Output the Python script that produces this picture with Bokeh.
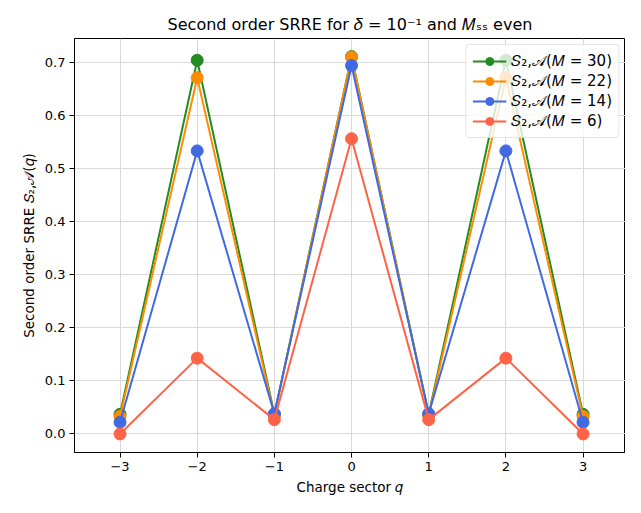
from bokeh.plotting import figure
from bokeh.embed import file_html
from bokeh.resources import INLINE
from bokeh.models import FixedTicker, Range1d, PrintfTickFormatter

q = [-3, -2, -1, 0, 1, 2, 3]
s_m30 = [0.037, 0.705, 0.037, 0.712, 0.037, 0.705, 0.037]
s_m22 = [0.033, 0.672, 0.035, 0.711, 0.035, 0.672, 0.033]
s_m14 = [0.022, 0.534, 0.038, 0.695, 0.038, 0.534, 0.022]
s_m6 = [0.000, 0.143, 0.027, 0.557, 0.027, 0.143, 0.000]
labels = ["𝑆₂,𝒜(𝑀 = 30)", "𝑆₂,𝒜(𝑀 = 22)", "𝑆₂,𝒜(𝑀 = 14)", "𝑆₂,𝒜(𝑀 = 6)"]
colors = ["#228B22", "#FF8C00", "#4169E1", "#FF6347"]
xticks = [-3, -2, -1, 0, 1, 2, 3]
yticks = [0.0, 0.1, 0.2, 0.3, 0.4, 0.5, 0.6, 0.7]

FONT = "DejaVu Sans"

p = figure(width=625, height=497, output_backend="svg", toolbar_location=None,
           x_range=Range1d(-3.59, 3.55), y_range=Range1d(-0.035, 0.746),
           min_border_left=74, min_border_right=0, min_border_top=38, min_border_bottom=40)

p.title.text = "Second order SRRE for 𝛿 = 10⁻¹ and 𝑀ₛₛ even"
p.title.align = "center"
p.title.text_font = FONT
p.title.text_font_size = "16px"
p.title.text_font_style = "normal"
p.title.text_color = "black"
p.title.offset = 0

for ys, lab, c in zip([s_m30, s_m22, s_m14, s_m6], labels, colors):
    p.line(q, ys, line_color=c, line_width=2, legend_label=lab)
    p.scatter(q, ys, size=12, fill_color=c, line_color=c, legend_label=lab)

p.outline_line_color = "black"
p.outline_line_width = 1

for ax in (p.xaxis, p.yaxis):
    ax.major_label_text_font = FONT
    ax.major_label_text_font_size = "13px"
    ax.major_label_text_color = "black"
    ax.axis_label_text_font = FONT
    ax.axis_label_text_font_size = "13.5px"
    ax.axis_label_text_font_style = "normal"
    ax.axis_label_text_color = "black"
    ax.major_tick_out = 5
    ax.major_tick_in = 0
    ax.minor_tick_out = 0
    ax.minor_tick_in = 0
    ax.axis_line_color = "black"
    ax.major_tick_line_color = "black"
    ax.axis_label_standoff = 5
    ax.major_label_standoff = 4

p.xaxis.ticker = FixedTicker(ticks=xticks)
p.xaxis.major_label_overrides = {t: (str(t).replace("-", "−")) for t in xticks}
p.yaxis.ticker = FixedTicker(ticks=yticks)
p.yaxis.formatter = PrintfTickFormatter(format="%.1f")
p.xaxis.axis_label = "Charge sector 𝑞"
p.yaxis.axis_label = "Second order SRRE 𝑆₂,𝒜(𝑞)"

p.grid.grid_line_color = "#d9d9d9"
p.grid.grid_line_width = 1

p.legend.location = "top_right"
p.legend.background_fill_alpha = 0.8
p.legend.border_line_color = "#cccccc"
p.legend.border_line_width = 1
p.legend.border_radius = 4
p.legend.label_text_font = FONT
p.legend.label_text_font_size = "15px"
p.legend.label_text_color = "black"
p.legend.glyph_width = 34
p.legend.spacing = 0
p.legend.padding = 6
p.legend.margin = 6
p.legend.label_height = 20
p.legend.glyph_height = 20

open("out.html", "w").write(file_html(p, INLINE))
